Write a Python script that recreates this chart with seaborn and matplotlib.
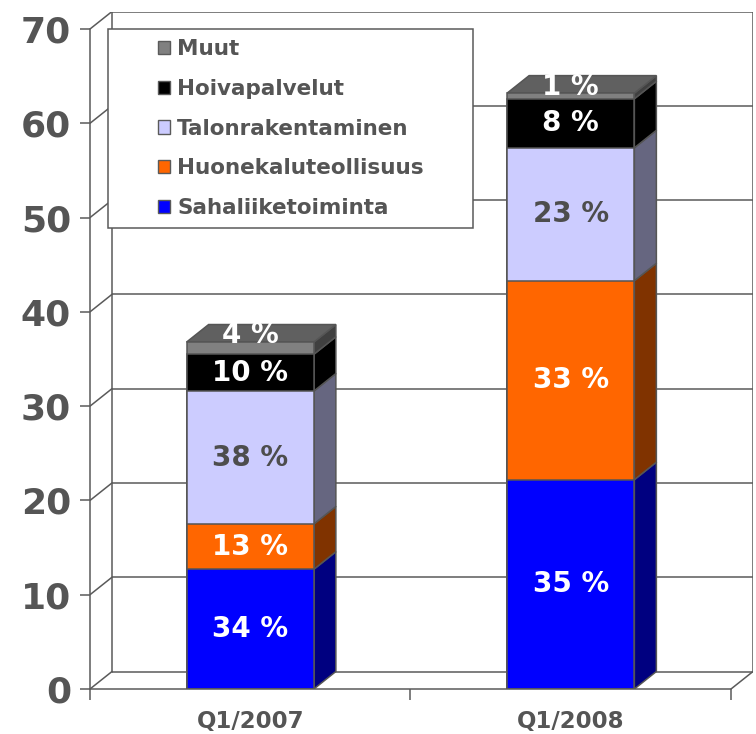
import matplotlib
matplotlib.use("Agg")
import matplotlib.pyplot as plt
from matplotlib.patches import Polygon, Patch, Rectangle
import seaborn as sns
import pandas as pd
import numpy as np

# ---------------- data ----------------
categories = ["Q1/2007", "Q1/2008"]
series = ["Sahaliiketoiminta", "Huonekaluteollisuus", "Talonrakentaminen",
          "Hoivapalvelut", "Muut"]
sahaliiketoiminta = [12.7, 22.2]
huonekaluteollisuus = [4.8, 21.1]
talonrakentaminen = [14.1, 14.1]
hoivapalvelut = [3.9, 5.2]
muut = [1.3, 0.6]
pct_sahali = ["34 %", "35 %"]
pct_huone = ["13 %", "33 %"]
pct_talon = ["38 %", "23 %"]
pct_hoiva = ["10 %", "8 %"]
pct_muut = ["4 %", "1 %"]
y_ticks = [0, 10, 20, 30, 40, 50, 60, 70]

values = [sahaliiketoiminta, huonekaluteollisuus, talonrakentaminen, hoivapalvelut, muut]
labels = [pct_sahali, pct_huone, pct_talon, pct_hoiva, pct_muut]
front_colors = ["#0000FF", "#FF6600", "#CCCCFF", "#000000", "#808080"]
side_colors = ["#000080", "#803300", "#666680", "#000000", "#404040"]
top_color = "#606060"
text_colors = ["white", "white", "#4D4D4D", "white", "white"]
EDGE = "#555555"

# ---------------- figure / axes geometry ----------------
W, H = 756, 734
fig = plt.figure(figsize=(W / 100, H / 100), dpi=100)
sns.set_style("white")
plt.rcParams["font.family"] = ["DejaVu Sans"]

left_px, right_px, bot_px, top_px = 90, 753, 689, 11.5
ax = fig.add_axes([left_px / W, (H - bot_px) / H, (right_px - left_px) / W, (bot_px - top_px) / H])
ax.set_facecolor("none")

cat_px = 320.5
unit_px = (689 - 29) / 70.0
dx = 22 / cat_px
dy = 17.5 / unit_px
ax.set_xlim(-0.5, 1.5 + dx)
ax.set_ylim(0, 70 + dy)

# ---------------- stacked bars via seaborn (front faces) ----------------
cum = np.cumsum(np.array(values), axis=0)  # layers x categories
layer_patches = {}
for i in reversed(range(len(series))):
    df = pd.DataFrame({"cat": categories, "val": cum[i]})
    n0 = len(ax.patches)
    sns.barplot(data=df, x="cat", y="val", order=categories, color=front_colors[i],
                saturation=1, width=0.397, edgecolor=EDGE, linewidth=1.1,
                errorbar=None, ax=ax, zorder=3)
    layer_patches[i] = ax.patches[n0:]

ax.set_xlim(-0.5, 1.5 + dx)
ax.set_ylim(0, 70 + dy)

# ---------------- 3D side / top faces ----------------
for j in range(len(categories)):
    for i in range(len(series)):
        p = layer_patches[i][j]
        x0, w = p.get_x(), p.get_width()
        top = p.get_height()
        bottom = cum[i - 1][j] if i > 0 else 0.0
        side = Polygon([(x0 + w, bottom), (x0 + w + dx, bottom + dy),
                        (x0 + w + dx, top + dy), (x0 + w, top)], closed=True,
                       facecolor=side_colors[i], edgecolor=EDGE, linewidth=1.1, zorder=2.5)
        ax.add_patch(side)
        if i == len(series) - 1:
            tp = Polygon([(x0, top), (x0 + dx, top + dy), (x0 + w + dx, top + dy),
                          (x0 + w, top)], closed=True, facecolor=top_color,
                         edgecolor=EDGE, linewidth=1.1, zorder=2.5)
            ax.add_patch(tp)

# labels, clipped to the 3D bar outline
for j in range(len(categories)):
    p0 = layer_patches[len(series) - 1][j]
    x0, w = p0.get_x(), p0.get_width()
    total = p0.get_height()
    outline = Polygon([(x0, 0), (x0 + w, 0), (x0 + w + dx, dy), (x0 + w + dx, total + dy),
                       (x0 + dx, total + dy), (x0, total)], closed=True,
                      transform=ax.transData, facecolor="none", edgecolor="none")
    ax.add_patch(outline)
    for i in range(len(series)):
        top = cum[i][j]
        bottom = cum[i - 1][j] if i > 0 else 0.0
        yc = (top + bottom) / 2 if i < len(series) - 1 else top + 0.7
        t = ax.text(x0 + w / 2, yc, labels[i][j], ha="center", va="center",
                    color=text_colors[i], fontsize=20, fontweight="bold", zorder=6)
        t.set_clip_path(outline)

# ---------------- back wall / floor / gridlines ----------------
LC = "#5A5A5A"
LW = 1.1
xb0, xb1 = -0.5 + dx, 1.5 + dx
for yv in y_ticks:
    ax.plot([xb0, xb1], [yv + dy, yv + dy], color=LC, lw=LW, zorder=1, solid_capstyle="butt")
    ax.plot([-0.5, xb0], [yv, yv + dy], color=LC, lw=LW, zorder=1)
ax.plot([xb0, xb0], [dy, 70 + dy], color=LC, lw=LW, zorder=1)
ax.plot([xb1, xb1], [dy, 70 + dy], color=LC, lw=LW, zorder=1)
ax.plot([1.5, xb1], [0, dy], color=LC, lw=LW, zorder=1)

# ---------------- axes styling ----------------
for s in ["top", "right"]:
    ax.spines[s].set_visible(False)
ax.spines["left"].set_bounds(0, 70)
ax.spines["bottom"].set_bounds(-0.5, 1.5)
for s in ["left", "bottom"]:
    ax.spines[s].set_color(LC)
    ax.spines[s].set_linewidth(LW)
    ax.spines[s].set_zorder(4)

ax.set_yticks(y_ticks)
ax.set_yticklabels([str(v) for v in y_ticks])
ax.tick_params(axis="y", direction="out", length=7.2, width=LW, color=LC, pad=6.5,
               labelsize=26, labelcolor="#555555", left=True)
for lab in ax.get_yticklabels():
    lab.set_fontweight("bold")

ax.set_xticks([-0.5, 0.5, 1.5])
ax.set_xticklabels(["", "", ""])
ax.set_xticks([0, 1], minor=True)
ax.set_xticklabels(categories, minor=True)
ax.tick_params(axis="x", which="major", direction="out", length=8, width=LW, color=LC, bottom=True)
ax.tick_params(axis="x", which="minor", length=0, pad=15, labelsize=16.5, labelcolor="#555555")
for lab in ax.get_xticklabels(minor=True):
    lab.set_fontweight("bold")
ax.set_xlabel("")
ax.set_ylabel("")

# ---------------- legend ----------------
frame = Rectangle((108 / W, 1 - 228 / H), 365 / W, 199 / H, transform=fig.transFigure,
                  facecolor="white", edgecolor=LC, linewidth=LW, zorder=4)
fig.add_artist(frame)
handles = [Patch(facecolor=front_colors[i], edgecolor=LC, linewidth=1.0)
           for i in reversed(range(len(series)))]
leg = fig.legend(handles, list(reversed(series)), loc="upper left",
                 bbox_to_anchor=(158 / W, 1 - 39 / H), frameon=False,
                 borderpad=0, borderaxespad=0, handlelength=0.56, handleheight=0.56,
                 handletextpad=0.33, labelspacing=0.92,
                 prop={"size": 15.5, "weight": "bold"})
for t in leg.get_texts():
    t.set_color("#555555")
leg.set_zorder(5)

fig.savefig("out.png", dpi=100)
